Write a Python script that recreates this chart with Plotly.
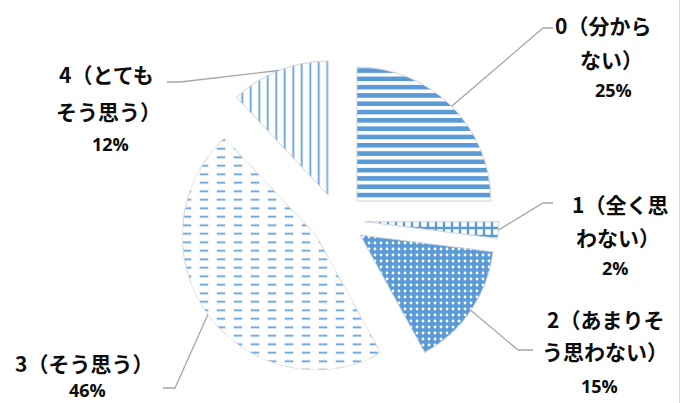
import math
import plotly.graph_objects as go

# ---------------- data ----------------
categories = ["0（分からない）", "1（全く思わない）", "2（あまりそう思わない）", "3（そう思う）", "4（とてもそう思う）"]
values = [25, 2, 15, 46, 12]
label_lines = [["0（分から", "ない）"], ["1（全く思", "わない）"], ["2（あまりそ", "う思わない）"],
               ["3（そう思う）"], ["4（とても", "そう思う）"]]

# ---------------- layout constants (pixels) ----------------
W, H = 691, 403
CX, CY = 338, 220          # pie centre
R = 134                    # slice radius
PULL = 0.2                 # explosion as fraction of radius
HALF = R * (1 + PULL)
BLUE = "#5B9BD5"

def px(x):
    return x / W

def py(y):
    return 1 - y / H

domain = dict(x=[px(CX - HALF), px(CX + HALF)], y=[py(CY + HALF), py(CY - HALF)])

fig = go.Figure()
fig.add_trace(go.Pie(
    labels=categories, values=values, sort=False, direction="clockwise", rotation=0,
    pull=[PULL] * len(values), domain=domain, textinfo="none", hoverinfo="label+percent",
    marker=dict(
        colors=[BLUE] * len(values),
        line=dict(color="#d4d4d4", width=1),
        pattern=dict(
            shape=["-", "+", ".", "-", "|"],
            fgcolor=[BLUE, BLUE, "white", BLUE, BLUE],
            bgcolor=["white", "white", BLUE, "white", "white"],
            size=[8.3, 8, 6, 8.5, 8.5],
            solidity=[0.55, 0.5, 0.17, 0.2, 0.2],
            fillmode="replace",
        ),
    ),
    showlegend=False,
))
# white cutter that turns the lines of slice 3 into dashes
fig.add_trace(go.Pie(
    labels=categories, values=values, sort=False, direction="clockwise", rotation=0,
    pull=[PULL] * len(values), domain=domain, textinfo="none", hoverinfo="skip",
    marker=dict(
        colors=["rgba(0,0,0,0)"] * len(values),
        line=dict(width=0),
        pattern=dict(shape=["", "", "", "|", ""], fgcolor="white",
                     bgcolor="rgba(0,0,0,0)", size=17, solidity=0.5, fillmode="replace"),
    ),
    showlegend=False,
))

# ---------------- labels & leader lines ----------------
total = sum(values)
elbows = [[(543, 28), (553, 28)], [(543, 203), (553, 203)], [(518, 350), (533, 350)],
          [(175, 388), (163, 388)], [(180, 82), (167, 82)]]
line_pos = [[(553, 25), (578, 59)], [(570, 204), (574, 237)], [(545, 319), (540, 351)],
            [(13, 363)], [(57, 74), (54, 111)]]
pct_pos = [(593, 90), (600, 268), (579, 386), (67, 390), (90, 144)]

shapes = []
annotations = []
cum = 0
for i, v in enumerate(values):
    a = 2 * math.pi * (cum + v / 2) / total
    cum += v
    sx = CX + HALF * math.sin(a)
    sy = CY - HALF * math.cos(a)
    pts = [(sx, sy)] + elbows[i]
    path = "M " + " L ".join(f"{px(x):.5f},{py(y):.5f}" for x, y in pts)
    shapes.append(dict(type="path", xref="paper", yref="paper", path=path,
                       line=dict(color="#a6a6a6", width=1.3)))
    for txt, (lx, ly) in zip(label_lines[i], line_pos[i]):
        annotations.append(dict(text=txt, x=px(lx), y=py(ly), xref="paper", yref="paper",
                                xanchor="left", yanchor="middle", showarrow=False,
                                font=dict(family="Noto Sans CJK JP", size=21, color="#0d0d0d",
                                          weight="bold")))
    annotations.append(dict(text=f"{round(v / total * 100)}%", x=px(pct_pos[i][0]), y=py(pct_pos[i][1]),
                            xref="paper", yref="paper", xanchor="left", yanchor="middle",
                            showarrow=False,
                            font=dict(family="Open Sans", size=18, color="#0d0d0d", weight="bold")))

# right border of the chart area
shapes.append(dict(type="line", xref="paper", yref="paper", x0=px(679.5), x1=px(679.5), y0=0, y1=1,
                   line=dict(color="#d9d9d9", width=1)))

fig.update_layout(
    width=W, height=H, margin=dict(l=0, r=0, t=0, b=0),
    paper_bgcolor="white", plot_bgcolor="white",
    shapes=shapes, annotations=annotations,
)
fig.write_html("out.html", config={"displayModeBar": False},
               post_script="document.body.style.margin='0';document.body.style.overflow='hidden';")
